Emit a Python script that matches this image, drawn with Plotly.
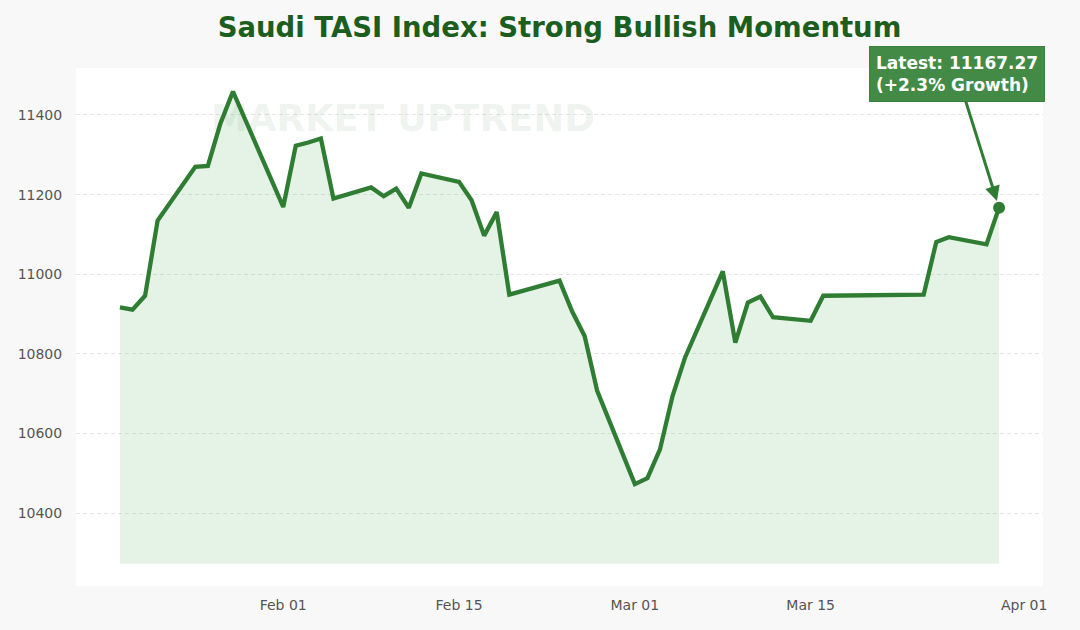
import plotly.graph_objects as go

dates = [
    "2025-01-19", "2025-01-20", "2025-01-21", "2025-01-22", "2025-01-25",
    "2025-01-26", "2025-01-27", "2025-01-28", "2025-02-01", "2025-02-02",
    "2025-02-03", "2025-02-04", "2025-02-05", "2025-02-08", "2025-02-09",
    "2025-02-10", "2025-02-11", "2025-02-12", "2025-02-15", "2025-02-16",
    "2025-02-17", "2025-02-18", "2025-02-19", "2025-02-23", "2025-02-24",
    "2025-02-25", "2025-02-26", "2025-03-01", "2025-03-02", "2025-03-03",
    "2025-03-04", "2025-03-05", "2025-03-08", "2025-03-09", "2025-03-10",
    "2025-03-11", "2025-03-12", "2025-03-15", "2025-03-16", "2025-03-24",
    "2025-03-25", "2025-03-26", "2025-03-29", "2025-03-30",
]
tasi = [
    10917, 10911, 10946, 11135, 11270,
    11272, 11379, 11459, 11169, 11323,
    11331, 11341, 11190, 11218, 11196,
    11215, 11167, 11253, 11232, 11186,
    11097, 11156, 10949, 10984, 10907,
    10845, 10707, 10473, 10488, 10560,
    10694, 10791, 11007, 10828, 10929,
    10944, 10892, 10883, 10946, 10949,
    11081, 11093, 11075, 11167.27,
]
fill_base = 10273

y_ticks = [10400, 10600, 10800, 11000, 11200, 11400]
x_ticks = ["2025-02-01", "2025-02-15", "2025-03-01", "2025-03-15", "2025-04-01"]

title_text = "Saudi TASI Index: Strong Bullish Momentum"
watermark_text = "MARKET UPTREND"
growth_pct = (tasi[-1] / tasi[0] - 1) * 100
latest_text = f"Latest: {tasi[-1]:.2f}<br>(+{growth_pct:.1f}% Growth)"

GREEN = "#2e7d32"
FONT = "DejaVu Sans"

fig = go.Figure()

fig.add_trace(go.Scatter(
    x=dates, y=[fill_base] * len(dates), mode="lines",
    line=dict(width=0, color="rgba(0,0,0,0)"), hoverinfo="skip", showlegend=False,
))
fig.add_trace(go.Scatter(
    x=dates, y=tasi, mode="lines", fill="tonexty",
    fillcolor="rgba(76,175,80,0.15)",
    line=dict(color=GREEN, width=4.3), showlegend=False,
))
fig.add_trace(go.Scatter(
    x=[dates[-1]], y=[tasi[-1]], mode="markers",
    marker=dict(color=GREEN, size=12), showlegend=False,
))

fig.add_annotation(
    text=watermark_text, xref="paper", yref="paper", x=0.338, y=0.903,
    showarrow=False,
    font=dict(family=FONT, size=37, color="rgba(27,94,32,0.08)", weight="bold"),
    xanchor="center", yanchor="middle",
)

fig.add_annotation(
    x=dates[-1], y=tasi[-1], xref="x", yref="y",
    text=latest_text, align="left", showarrow=True,
    ax=-42, ay=-134, axref="pixel", ayref="pixel",
    arrowcolor=GREEN, arrowwidth=3, arrowhead=2, arrowsize=1, standoff=7,
    bgcolor="rgba(46,125,50,0.9)", bordercolor="rgba(46,125,50,0.9)",
    borderwidth=1, borderpad=6,
    font=dict(family=FONT, size=17, color="white", weight="bold"),
)

fig.update_layout(
    width=1080, height=630,
    margin=dict(l=76, r=37, t=68, b=44),
    paper_bgcolor="#f8f8f8", plot_bgcolor="white",
    font=dict(family=FONT, size=14, color="#555555"),
    title=dict(
        text=title_text, x=0.5, xref="paper", xanchor="center",
        y=1 - 27 / 630, yref="container", yanchor="middle",
        font=dict(family=FONT, size=27.5, color="#1b5e20", weight="bold"),
    ),
    showlegend=False,
)

fig.update_xaxes(
    type="date", range=["2025-01-15 12:00", "2025-04-02 12:00"],
    tickvals=x_ticks, tickformat="%b %d",
    showgrid=False, zeroline=False, showline=False,
    ticks="outside", ticklen=6, tickcolor="rgba(0,0,0,0)",
    tickfont=dict(family=FONT, size=14, color="#555555"),
)
fig.update_yaxes(
    range=[10217, 11518], tickvals=y_ticks, tickformat="d",
    showgrid=True, gridcolor="#e6e6e6", griddash="4px,3px", gridwidth=1,
    zeroline=False, showline=False,
    ticks="outside", ticklen=10, tickcolor="rgba(0,0,0,0)",
    tickfont=dict(family=FONT, size=14, color="#555555"),
)

fig.write_html(
    "out.html",
    config={"displayModeBar": False},
    post_script="document.body.style.margin='0';document.body.style.background='#f8f8f8';",
)
